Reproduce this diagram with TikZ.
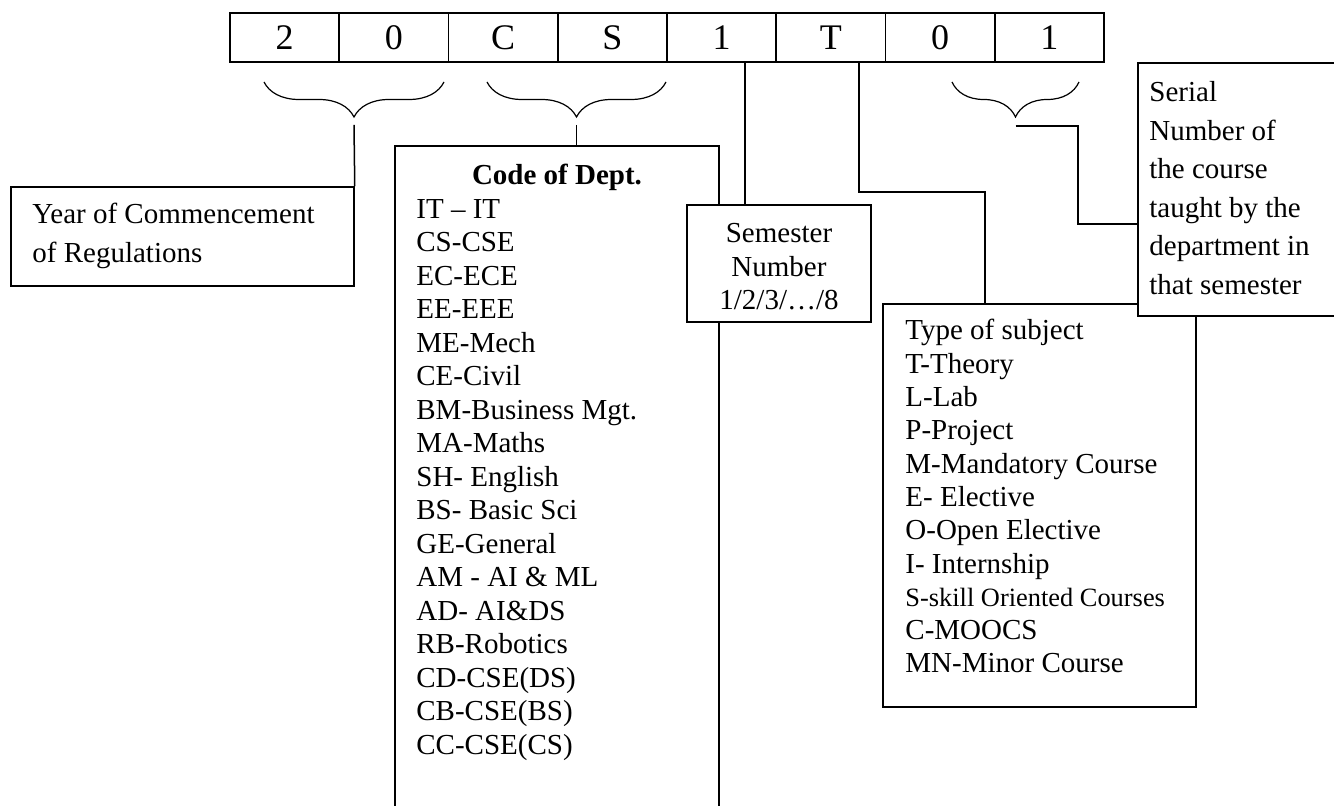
\documentclass[tikz,border=0pt]{standalone}
\usepackage{fontspec}
\setmainfont{Liberation Serif}
\usetikzlibrary{positioning,fit,decorations.pathreplacing}
\newcommand\smalltext{\fontsize{13.2}{15}\selectfont}

\begin{document}
\begin{tikzpicture}[x=0.5pt,y=-0.5pt,
  cell/.style={draw,line width=0.9pt,minimum width=54.625pt,minimum height=24.5pt,inner sep=0pt,font=\fontsize{18}{20}\selectfont},
  box/.style={draw,fill=white,line width=0.75pt,inner sep=0pt},
  txt/.style={anchor=base west,inner sep=0pt,font=\fontsize{14.5}{16.75}\selectfont},
  ctxt/.style={txt,anchor=base},
  brace/.style={decorate,decoration={brace,mirror,amplitude=17.5pt},line width=0.6pt},
  link/.style={line width=0.75pt}]
  \useasboundingbox (0,0) rectangle (1334,806);
  \clip (0,0) rectangle (1334,806);

  \foreach \c [count=\i] in {2,0,C,S,1,T,0,1}
    \node[cell] (cell\i) at ({230+109.25*(\i-0.5)},37.5) {\c};

  \draw[brace] (264,82) -- (444,82);
  \draw[brace] (487,82) -- (666,82);
  \draw[brace] (952,82) -- (1079,82);
  \coordinate (yrtip) at (354,125);
  \coordinate (depttip) at (576.5,125);
  \coordinate (sertip) at (1015.5,126);

  \node[box,fit={(11,187) (354,286)}] (year) {};
  \node[box,fit={(395,146) (719,840)}] (dept) {};
  \node[box,fit={(687,205) (871,322)}] (sem) {};
  \node[box,fit={(883,304) (1196,707)}] (type) {};
  \node[box,fit={(1138,63) (1360,316)}] (serial) {};

  \node[txt] (year1) at (32,224) {Year of Commencement};
  \node[txt] (year2) at (32,263) {of Regulations};

  \node[ctxt,font={\fontsize{14.5}{16.75}\selectfont\bfseries}] (depthead) at (557,185) {Code of Dept.};
  \foreach \t [count=\k] in {IT – IT,CS-CSE,EC-ECE,EE-EEE,ME-Mech,CE-Civil,BM-Business Mgt.,MA-Maths,SH- English,BS- Basic Sci,GE-General,AM - AI \& ML,AD- AI\&DS,RB-Robotics,CD-CSE(DS),CB-CSE(BS),CC-CSE(CS)}
    \node[txt] (dept\k) at (416,{185+33.5*\k}) {\t};

  \foreach \t [count=\k from 0] in {Semester,Number,1/2/3/…/8}
    \node[ctxt] (sem\k) at (779,{243+33.5*\k}) {\t};

  \foreach \t [count=\k from 0] in {Type of subject,T-Theory,L-Lab,P-Project,M-Mandatory Course,E- Elective,O-Open Elective,I- Internship,{\smalltext S-skill Oriented Courses},C-MOOCS,MN-Minor Course}
    \node[txt] (type\k) at (905,{340+33.3*\k}) {\t};

  \foreach \t [count=\k from 0] in {Serial,Number of,the course,taught by the,department in,that semester}
    \node[txt] (serial\k) at (1149,{102+38.5*\k}) {\t};

  \coordinate (semstart) at ([xshift=11.7pt]cell5.south);
  \coordinate (typestart) at ([xshift=14pt]cell6.south);
  \coordinate (typebend) at (985,192);
  \coordinate (serbend) at (1078,224);
  \draw[link] (yrtip) -- (year.north east);
  \draw[link] (depttip) -- (depttip |- dept.north);
  \draw[link] (semstart) -- (semstart |- sem.north);
  \draw[link] (typestart) |- (typebend) -- (typebend |- type.north);
  \draw[link] (sertip) -| (serbend) -- (serbend -| serial.west);
\end{tikzpicture}
\end{document}
